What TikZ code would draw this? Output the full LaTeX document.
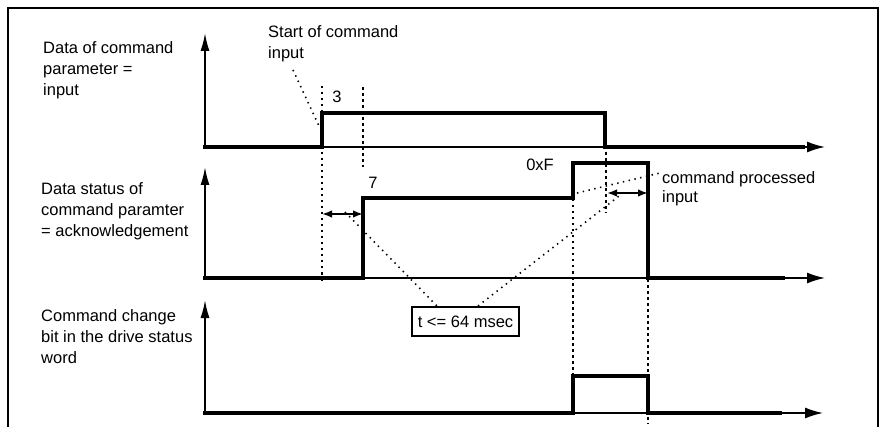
\documentclass[tikz,border=0pt]{standalone}
\usepackage{fontspec}
\setmainfont{Liberation Sans}
\usetikzlibrary{arrows.meta}
\begin{document}
\begin{tikzpicture}[x=1pt,y=-1pt,
  lbl/.style={inner sep=0pt,align=left,anchor=north west,font=\fontsize{16.5}{21}\selectfont},
  num/.style={inner sep=0pt,font=\fontsize{16.5}{21}\selectfont},
  axis/.style={line width=1.7pt,-{Latex[length=18pt,width=9pt]}},
  haxis/.style={line width=1.7pt,-{Latex[length=18pt,width=11pt]}},
  sig/.style={line width=3.6pt,line join=miter,line cap=rect},
  vdot/.style={line width=1.8pt,dash pattern=on 2.5pt off 3.5pt},
  vdash/.style={line width=1.1pt,dash pattern=on 3pt off 3pt},
  lead/.style={line width=1.6pt,dash pattern=on 1.4pt off 4.5pt},
  dimarr/.style={line width=1.6pt,{Latex[length=10pt,width=7.5pt]}-{Latex[length=10pt,width=7.5pt]}},
  frame/.style={line width=2.6pt}]
\useasboundingbox (0,0) rectangle (882,427);
% frame (open at bottom)
\coordinate (fbl) at (8,427);
\coordinate (ftl) at (8,8);
\coordinate (ftr) at (878,8);
\coordinate (fbr) at (878,427);
\draw[frame] (fbl) -- (ftl) -- (ftr) -- (fbr);

% ---------- axes ----------
\coordinate (o1) at (205,147); \coordinate (y1) at (205,33); \coordinate (x1) at (825,147);
\coordinate (o2) at (205,278); \coordinate (y2) at (205,167); \coordinate (x2) at (825,278);
\coordinate (o3) at (205,413); \coordinate (y3) at (205,300); \coordinate (x3) at (823,413);
\draw[axis] (o1) -- (y1); \draw[haxis] (o1) -- (x1);
\draw[axis] (o2) -- (y2); \draw[haxis] (o2) -- (x2);
\draw[axis] (o3) -- (y3); \draw[haxis] (o3) -- (x3);

% ---------- signals ----------
\coordinate (a1) at (322,147); \coordinate (a2) at (322,113);
\coordinate (a3) at (605,113); \coordinate (a4) at (605,147); \coordinate (a5) at (803,147);
\draw[sig] (o1) -- (a1) -- (a2) -- (a3) -- (a4) -- (a5);

\coordinate (b1) at (363,278); \coordinate (b2) at (363,198);
\coordinate (b3) at (573,198); \coordinate (b4) at (573,163);
\coordinate (b5) at (648,163); \coordinate (b6) at (648,278); \coordinate (b7) at (783,278);
\draw[sig] (o2) -- (b1) -- (b2) -- (b3) -- (b4) -- (b5) -- (b6) -- (b7);

\coordinate (c1) at (573,413); \coordinate (c2) at (573,376);
\coordinate (c3) at (648,376); \coordinate (c4) at (648,413); \coordinate (c5) at (780,413);
\draw[sig] (o3) -- (c1) -- (c2) -- (c3) -- (c4) -- (c5);

% ---------- vertical guide lines ----------
\coordinate (v1t) at (322,86);  \coordinate (v1b) at (322,281);
\coordinate (v2t) at (363,87);  \coordinate (v2b) at (363,167);
\coordinate (v3t) at (573,199); \coordinate (v3b) at (573,375);
\coordinate (v4t) at (606,152); \coordinate (v4b) at (606,213);
\coordinate (v5t) at (648,279); \coordinate (v5b) at (648,424);
\draw[vdot] (v1t) -- (v1b);
\draw[vdash] (v2t) -- (v2b);
\draw[vdot] (v3t) -- (v3b);
\draw[vdash] (v4t) -- (v4b);
\draw[vdot] (v5t) -- (v5b);

% ---------- dimension arrows ----------
\coordinate (d1l) at (322,214); \coordinate (d1r) at (363,214);
\coordinate (d2l) at (607,193); \coordinate (d2r) at (648,193);
\draw[dimarr] (d1l) -- (d1r);
\draw[dimarr] (d2l) -- (d2r);

% ---------- texts ----------
\node[lbl] (l1) at (43,41) {Data of command\\parameter =\\input};
\node[lbl] (l2) at (41,182) {Data status of\\command paramter\\= acknowledgement};
\node[lbl] (l3) at (41,309) {Command change\\bit in the drive status\\word};
\node[lbl] (start) at (268,25) {Start of command\\input};
\node[lbl,font=\fontsize{16.5}{19}\selectfont] (proc) at (662,171) {command processed\\input};
\node[num] (n3) at (337,97) {3};
\node[num] (n7) at (373,183) {7};
\node[num] (nF) at (540,165) {0xF};
\node[draw,line width=1.2pt,minimum width=107pt,minimum height=29pt,inner sep=1pt,
      font=\fontsize{16.5}{21}\selectfont] (tbox) at (465.5,321.5) {t <= 64 msec};

% ---------- leader lines ----------
\coordinate (s1) at (293,70); \coordinate (s2) at (319,126);
\draw[lead] (s1) -- (s2);
\coordinate (t1) at (345,212); \coordinate (t2) at (437,306);
\draw[lead] (t1) -- (t2);
\coordinate (t3) at (478,306); \coordinate (t4) at (619,196);
\draw[lead] (t3) -- (t4);
\coordinate (p1) at (577,193); \coordinate (p2) at (660,173);
\draw[lead] (p1) -- (p2);
\end{tikzpicture}
\end{document}
